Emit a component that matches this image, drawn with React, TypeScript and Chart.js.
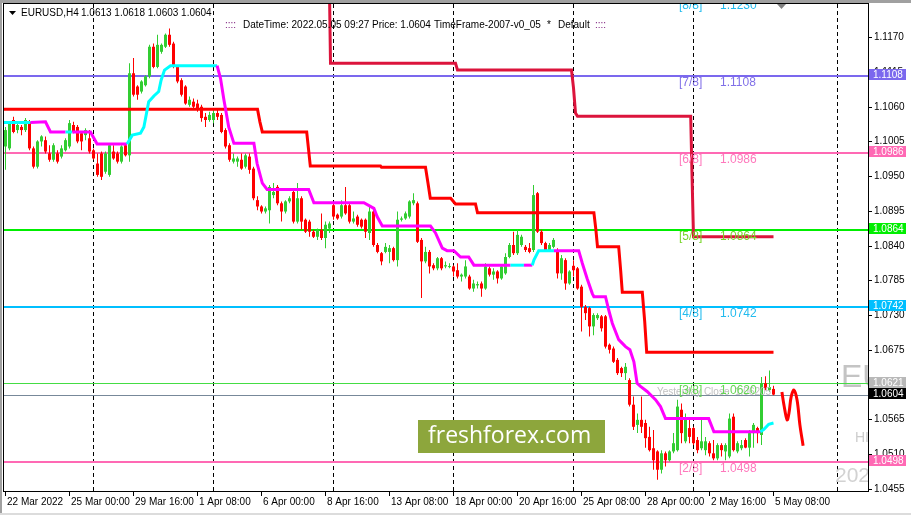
import React, { useEffect, useRef } from 'react';
import { Chart, registerables } from 'chart.js';

Chart.register(...registerables);

const symbolTitle = 'EURUSD,H4';
const lastBarText = '1.0613 1.0618 1.0603 1.0604';

const opens = [
  1.0997, 1.0994, 1.1039, 1.1023, 1.1028, 1.1023, 1.1036, 1.0994, 1.0965, 1.1005,
  1.1007, 1.0986, 1.0976, 1.0986, 1.0981, 1.0991, 1.0997, 1.1031, 1.1028, 1.1018,
  1.1015, 1.1010, 1.0991, 1.0970, 1.0986, 1.0957, 1.0952, 1.0989, 1.0986, 1.0973,
  1.0999, 1.0983, 1.1113, 1.1092, 1.1084, 1.1094, 1.1108, 1.1155, 1.1123, 1.1147,
  1.1155, 1.1174, 1.1160, 1.1123, 1.1102, 1.1092, 1.1063, 1.1068, 1.1065, 1.1060,
  1.1044, 1.1039, 1.1039, 1.1050, 1.1047, 1.1023, 1.0999, 1.0973, 1.0973, 1.0976,
  1.0965, 1.0981, 1.0962, 1.0912, 1.0902, 1.0894, 1.0896, 1.0920, 1.0933, 1.0907,
  1.0894, 1.0910, 1.0925, 1.0878, 1.0915, 1.0881, 1.0878, 1.0862, 1.0854, 1.0865,
  1.0852, 1.0867, 1.0904, 1.0889, 1.0886, 1.0904, 1.0904, 1.0878, 1.0886, 1.0881,
  1.0881, 1.0860, 1.0894, 1.0841, 1.0828, 1.0830, 1.0830, 1.0836, 1.0817, 1.0881,
  1.0883, 1.0886, 1.0907, 1.0907, 1.0849, 1.0815, 1.0830, 1.0809, 1.0804, 1.0820,
  1.0807, 1.0806, 1.0807, 1.0801, 1.0791, 1.0791, 1.0791, 1.0772, 1.0777, 1.0780,
  1.0772, 1.0804, 1.0794, 1.0799, 1.0788, 1.0796, 1.0822, 1.0841, 1.0828, 1.0841,
  1.0838, 1.0836, 1.0833, 1.0923, 1.0862, 1.0844, 1.0833, 1.0838, 1.0830, 1.0796,
  1.0817, 1.0780, 1.0808, 1.0804, 1.0775, 1.0743, 1.0741, 1.0712, 1.0725, 1.0728,
  1.0728, 1.0683, 1.0677, 1.0659, 1.0646, 1.0638, 1.0627, 1.0588, 1.0556, 1.0564,
  1.0559, 1.0537, 1.0519, 1.0514, 1.0485, 1.0511, 1.0500, 1.0514, 1.0516, 1.0580,
  1.0530, 1.0551, 1.0551, 1.0532, 1.0519, 1.0516, 1.0527, 1.0511, 1.0503, 1.0524,
  1.0514, 1.0506, 1.0569, 1.0514, 1.0519, 1.0532, 1.0520, 1.0543, 1.0551, 1.0540,
  1.0622, 1.0611, 1.0613,
];
const highs = [
  1.1028, 1.1036, 1.1044, 1.1036, 1.1031, 1.1042, 1.1039, 1.0997, 1.1007, 1.1015,
  1.1013, 1.0999, 1.1002, 1.0991, 1.0999, 1.1010, 1.1039, 1.1036, 1.1031, 1.1020,
  1.1026, 1.1023, 1.0994, 1.0986, 1.0989, 1.0989, 1.1002, 1.0999, 1.0989, 1.0999,
  1.1002, 1.1129, 1.1137, 1.1094, 1.1102, 1.1110, 1.1158, 1.1160, 1.1174, 1.1160,
  1.1176, 1.1184, 1.1163, 1.1126, 1.1105, 1.1094, 1.1076, 1.1073, 1.1071, 1.1063,
  1.1050, 1.1052, 1.1055, 1.1055, 1.1050, 1.1026, 1.1002, 1.0986, 1.0981, 1.0986,
  1.0986, 1.0986, 1.0965, 1.0918, 1.0904, 1.0902, 1.0936, 1.0939, 1.0936, 1.0910,
  1.0912, 1.0918, 1.0928, 1.0939, 1.0918, 1.0883, 1.0881, 1.0865, 1.0867, 1.0891,
  1.0878, 1.0878, 1.0907, 1.0891, 1.0912, 1.0933, 1.0907, 1.0894, 1.0889, 1.0883,
  1.0883, 1.0902, 1.0896, 1.0844, 1.0830, 1.0844, 1.0841, 1.0838, 1.0894, 1.0886,
  1.0894, 1.0912, 1.0923, 1.0910, 1.0852, 1.0838, 1.0833, 1.0812, 1.0822, 1.0822,
  1.0815, 1.0812, 1.0809, 1.0812, 1.0796, 1.0817, 1.0794, 1.0786, 1.0783, 1.0783,
  1.0812, 1.0807, 1.0804, 1.0801, 1.0809, 1.0828, 1.0844, 1.0862, 1.0865, 1.0857,
  1.0841, 1.0844, 1.0936, 1.0925, 1.0865, 1.0846, 1.0844, 1.0852, 1.0836, 1.0825,
  1.0820, 1.0801, 1.0817, 1.0806, 1.0778, 1.0746, 1.0743, 1.0733, 1.0733, 1.0730,
  1.0730, 1.0685, 1.0680, 1.0662, 1.0648, 1.0654, 1.0630, 1.0601, 1.0574, 1.0601,
  1.0564, 1.0553, 1.0548, 1.0516, 1.0516, 1.0514, 1.0516, 1.0543, 1.0596, 1.0590,
  1.0574, 1.0564, 1.0553, 1.0537, 1.0564, 1.0537, 1.0530, 1.0532, 1.0527, 1.0527,
  1.0527, 1.0574, 1.0574, 1.0530, 1.0532, 1.0535, 1.0548, 1.0559, 1.0553, 1.0632,
  1.0633, 1.0642, 1.0618,
];
const lows = [
  1.0960, 1.0991, 1.1018, 1.1018, 1.1015, 1.1020, 1.0991, 1.0962, 1.0962, 1.0997,
  1.0986, 1.0973, 1.0973, 1.0970, 1.0978, 1.0989, 1.0994, 1.1018, 1.1002, 1.0991,
  1.1007, 1.0986, 1.0976, 1.0949, 1.0944, 1.0954, 1.0949, 1.0976, 1.0970, 1.0970,
  1.0981, 1.0973, 1.1076, 1.1071, 1.1081, 1.1092, 1.1105, 1.1121, 1.1121, 1.1144,
  1.1153, 1.1155, 1.1121, 1.1097, 1.1076, 1.1063, 1.1060, 1.1057, 1.1052, 1.1036,
  1.1028, 1.1036, 1.1034, 1.1039, 1.1018, 1.0994, 1.0973, 1.0970, 1.0965, 1.0960,
  1.0962, 1.0954, 1.0912, 1.0896, 1.0891, 1.0891, 1.0875, 1.0915, 1.0904, 1.0878,
  1.0891, 1.0907, 1.0875, 1.0875, 1.0865, 1.0860, 1.0854, 1.0852, 1.0849, 1.0849,
  1.0836, 1.0860, 1.0881, 1.0881, 1.0883, 1.0889, 1.0875, 1.0875, 1.0870, 1.0867,
  1.0852, 1.0849, 1.0838, 1.0828, 1.0809, 1.0828, 1.0812, 1.0815, 1.0807, 1.0878,
  1.0881, 1.0883, 1.0904, 1.0844, 1.0757, 1.0812, 1.0796, 1.0801, 1.0801, 1.0801,
  1.0804, 1.0804, 1.0791, 1.0788, 1.0783, 1.0788, 1.0770, 1.0767, 1.0772, 1.0759,
  1.0770, 1.0791, 1.0786, 1.0780, 1.0786, 1.0794, 1.0820, 1.0825, 1.0825, 1.0838,
  1.0830, 1.0828, 1.0830, 1.0860, 1.0841, 1.0830, 1.0830, 1.0836, 1.0788, 1.0786,
  1.0770, 1.0778, 1.0791, 1.0770, 1.0704, 1.0722, 1.0696, 1.0698, 1.0722, 1.0704,
  1.0677, 1.0669, 1.0654, 1.0635, 1.0632, 1.0627, 1.0585, 1.0548, 1.0543, 1.0543,
  1.0520, 1.0514, 1.0485, 1.0469, 1.0479, 1.0490, 1.0498, 1.0511, 1.0514, 1.0527,
  1.0527, 1.0527, 1.0524, 1.0511, 1.0516, 1.0508, 1.0506, 1.0500, 1.0500, 1.0506,
  1.0500, 1.0503, 1.0514, 1.0511, 1.0516, 1.0519, 1.0506, 1.0520, 1.0527, 1.0524,
  1.0611, 1.0608, 1.0603,
];
const closes = [
  1.1023, 1.1034, 1.1020, 1.1031, 1.1023, 1.1039, 1.0994, 1.0965, 1.1005, 1.1013,
  1.0989, 1.0976, 1.0999, 1.0973, 1.0994, 1.1007, 1.1034, 1.1020, 1.1005, 1.1005,
  1.1023, 1.0989, 1.0978, 1.0952, 1.0949, 1.0986, 1.0999, 1.0978, 1.0973, 1.0997,
  1.0983, 1.1113, 1.1079, 1.1079, 1.1100, 1.1108, 1.1155, 1.1123, 1.1158, 1.1158,
  1.1174, 1.1158, 1.1123, 1.1100, 1.1079, 1.1065, 1.1071, 1.1060, 1.1057, 1.1042,
  1.1039, 1.1047, 1.1050, 1.1044, 1.1020, 1.0997, 1.0976, 1.0978, 1.0978, 1.0962,
  1.0983, 1.0960, 1.0915, 1.0902, 1.0894, 1.0899, 1.0933, 1.0925, 1.0907, 1.0894,
  1.0910, 1.0915, 1.0878, 1.0915, 1.0878, 1.0862, 1.0862, 1.0854, 1.0865, 1.0852,
  1.0873, 1.0875, 1.0886, 1.0883, 1.0904, 1.0891, 1.0878, 1.0883, 1.0873, 1.0870,
  1.0862, 1.0894, 1.0841, 1.0830, 1.0815, 1.0838, 1.0836, 1.0817, 1.0881, 1.0883,
  1.0891, 1.0910, 1.0912, 1.0846, 1.0815, 1.0830, 1.0807, 1.0804, 1.0820, 1.0804,
  1.0809, 1.0807, 1.0799, 1.0791, 1.0794, 1.0807, 1.0772, 1.0780, 1.0779, 1.0772,
  1.0807, 1.0794, 1.0799, 1.0788, 1.0807, 1.0822, 1.0841, 1.0828, 1.0857, 1.0854,
  1.0833, 1.0830, 1.0920, 1.0862, 1.0844, 1.0833, 1.0841, 1.0849, 1.0796, 1.0820,
  1.0780, 1.0799, 1.0801, 1.0772, 1.0743, 1.0733, 1.0712, 1.0730, 1.0730, 1.0709,
  1.0680, 1.0675, 1.0656, 1.0638, 1.0638, 1.0648, 1.0588, 1.0553, 1.0564, 1.0553,
  1.0535, 1.0516, 1.0500, 1.0485, 1.0511, 1.0500, 1.0514, 1.0527, 1.0585, 1.0543,
  1.0564, 1.0537, 1.0527, 1.0516, 1.0530, 1.0530, 1.0511, 1.0503, 1.0524, 1.0516,
  1.0524, 1.0566, 1.0516, 1.0527, 1.0524, 1.0520, 1.0543, 1.0556, 1.0543, 1.0622,
  1.0614, 1.0616, 1.0604,
];

const xTickIndex = [0, 16, 32, 48, 64, 80, 96, 112, 128, 144, 160, 176, 192];
const xTickLabels = [
  '22 Mar 2022', '25 Mar 00:00', '29 Mar 16:00', '1 Apr 08:00', '6 Apr 00:00', '8 Apr 16:00',
  '13 Apr 08:00', '18 Apr 00:00', '20 Apr 16:00', '25 Apr 08:00', '28 Apr 00:00', '2 May 16:00', '5 May 08:00',
];
const gridIndex = [22, 52, 82, 112, 142, 172, 208];
const yTickValues = [1.117, 1.1115, 1.106, 1.1005, 1.095, 1.0895, 1.084, 1.0785, 1.073, 1.0675, 1.062, 1.0565, 1.051, 1.0455];

const murreyNames = ['[8/8]', '[7/8]', '[6/8]', '[5/8]', '[4/8]', '[3/8]', '[2/8]'];
const murreyValues = [1.123, 1.1108, 1.0986, 1.0864, 1.0742, 1.062, 1.0498];
const murreyLineColors = ['#00bfff', '#7b68ee', '#ff69b4', '#00ee00', '#00bfff', '#44dd44', '#ff69b4'];
const murreyTextColors = ['#22bbee', '#8070e8', '#ff78bc', '#77d62a', '#22bbee', '#66d655', '#ff78bc'];
const murreyBoxed = [false, true, true, true, true, false, true];
const yesterdayClose = 1.06205;
const yesterdayCloseBox = 1.0621;
const bidPrice = 1.0604;

const redStepIndex = [-0.5, 63, 63.6, 64.2, 75.3, 75.8, 76.2, 93.75, 94, 105, 105.6, 106.2, 111.3, 112.5, 117.5, 118, 147.1, 147.6, 148, 153.3, 153.8, 154.2, 159.2, 159.8, 160.3, 192];
const redStepValues = [1.1056, 1.1056, 1.1036, 1.102, 1.102, 1.099, 1.0966, 1.0966, 1.0964, 1.0964, 1.094, 1.0915, 1.0915, 1.0906, 1.0906, 1.0892, 1.0892, 1.0865, 1.0838, 1.0838, 1.08, 1.0766, 1.0766, 1.072, 1.0671, 1.0671];

const crimsonStepIndex = [81, 81.25, 112.5, 113, 141.5, 142, 142.5, 143, 171.3, 171.6, 172, 192];
const crimsonStepValues = [1.124, 1.1129, 1.1129, 1.1118, 1.1118, 1.109, 1.105, 1.1045, 1.1045, 1.096, 1.0854, 1.0854];

const trailIndex = [
  -0.5, 6.25, 10, 11.25, 15, 16.7, 21.25, 22.9, 30.4, 31.7, 33.75, 34.6, 35.8, 37.1, 38.3, 38.9, 39.75, 41.25,
  52.9, 53.75, 54.6, 55.8, 57.1, 62.1, 62.9, 64.2, 65.4, 75.8, 77.1, 89.6, 92.1, 92.9, 94.2, 106.25, 107.5,
  109.2, 110.4, 112.1, 113.75, 115.8, 117.1, 126.25, 129.6, 131.7, 132.1, 133.3, 137.1, 143.3, 144.2, 145.4,
  146.7, 147.1, 150, 150.8, 151.7, 153.3, 155, 156.1, 157.1, 157.9, 158.75, 160.4, 162.5, 163.75, 165, 175.8,
  177.1, 188.75, 189.6, 190.8, 192,
];
const trailValues = [
  1.1035, 1.1035, 1.1036, 1.102, 1.102, 1.102, 1.102, 1.1001, 1.1001, 1.1015, 1.1018, 1.1028, 1.1068, 1.1077, 1.1084, 1.1102, 1.1118, 1.1125,
  1.1125, 1.1105, 1.1071, 1.1028, 1.1002, 1.1002, 1.097, 1.0939, 1.0929, 1.0929, 1.0908, 1.0908, 1.0899, 1.0886, 1.0871, 1.0871, 1.086,
  1.0836, 1.0832, 1.0832, 1.0822, 1.0822, 1.0809, 1.0809, 1.0809, 1.0809, 1.0817, 1.0832, 1.0832, 1.0832, 1.0812, 1.0788,
  1.0764, 1.0759, 1.0759, 1.0738, 1.0717, 1.0691, 1.068, 1.0675, 1.0656, 1.0622, 1.0617, 1.0609, 1.0596, 1.0585, 1.0566, 1.0566,
  1.0545, 1.0545, 1.0549, 1.0557, 1.0559,
];
const trailTrend = (
  'cmmmcmmmcccccccccc' +
  'mmmmmmmmmmmmmmmmmmmmmmm' +
  'cmccc' +
  'mmmmmmmmmmmmmmmmmmmmm' +
  'cccc'
).split('');

const forecastIndex = [194.1, 194.6, 195.4, 195.9, 196.4, 197.1, 197.9, 198.6, 199.4];
const forecastValues = [1.0608, 1.0588, 1.0564, 1.0576, 1.06, 1.0611, 1.0595, 1.0556, 1.0523];

const SANS = '"Liberation Sans", Arial, sans-serif';
const NARROW = '"Liberation Sans Narrow", "Liberation Sans", sans-serif';

function pickSmallFont(ctx: CanvasRenderingContext2D) {
  ctx.font = '11px "Liberation Sans Narrow", monospace';
  const a = ctx.measureText('1.0613 EURUSD').width;
  ctx.font = '11px monospace';
  const b = ctx.measureText('1.0613 EURUSD').width;
  return a !== b ? '11px "Liberation Sans Narrow", sans-serif' : `10px ${SANS}`;
}

function makeOverlay(small: string) {
  return {
    id: 'mt4overlay',
    beforeDraw(chart: any) {
      const { ctx, width, height } = chart;
      ctx.save();
      ctx.fillStyle = '#ffffff';
      ctx.fillRect(0, 0, width, height);
      ctx.fillStyle = '#a0a0a0';
      ctx.fillRect(0, 0, width, 3);
      ctx.fillRect(0, 0, 2, height);
      ctx.fillStyle = '#dcdcdc';
      ctx.fillRect(0, height - 2, width, 2);
      ctx.restore();
    },
    beforeDatasetsDraw(chart: any) {
      const { ctx, chartArea: a, scales } = chart;
      const xs = scales.x;
      const ys = scales.y;
      ctx.save();
      ctx.beginPath();
      ctx.rect(a.left, a.top, a.right - a.left, a.bottom - a.top);
      ctx.clip();

      ctx.strokeStyle = '#000';
      ctx.lineWidth = 1;
      ctx.setLineDash([4, 3]);
      gridIndex.forEach((g) => {
        const px = Math.floor(xs.getPixelForValue(g)) + 0.5;
        ctx.beginPath();
        ctx.moveTo(px, a.top);
        ctx.lineTo(px, a.bottom);
        ctx.stroke();
      });
      ctx.setLineDash([]);

      ctx.fillStyle = '#8da63c';
      ctx.fillRect(418, 420, 187, 33);
      ctx.fillStyle = '#ffffff';
      ctx.font = '23px "Open Sans", sans-serif';
      ctx.textBaseline = 'middle';
      ctx.textAlign = 'left';
      ctx.fillText('freshforex.com', 428, 436);
      ctx.fillStyle = '#c4c4c4';
      ctx.font = `32px ${NARROW}`;
      ctx.fillText('EU', 841, 378);
      ctx.fillStyle = '#cccccc';
      ctx.font = `14px ${SANS}`;
      ctx.fillText('HI', 855, 438);
      ctx.fillStyle = '#d2d2d2';
      ctx.font = `21px ${SANS}`;
      ctx.fillText('2022', 835, 476);

      murreyValues.forEach((v, i) => {
        const py = Math.round(ys.getPixelForValue(v));
        ctx.fillStyle = murreyLineColors[i];
        if (murreyBoxed[i]) ctx.fillRect(a.left, py - 1, a.right - a.left, 2);
      });
      const yc = Math.round(ys.getPixelForValue(yesterdayClose));
      ctx.fillStyle = '#c0c0c0';
      ctx.fillRect(a.left, yc - 1, a.right - a.left, 1);
      ctx.fillStyle = murreyLineColors[5];
      ctx.fillRect(a.left, Math.round(ys.getPixelForValue(murreyValues[5])) - 1, a.right - a.left, 1);
      ctx.fillStyle = '#778899';
      ctx.fillRect(a.left, Math.round(ys.getPixelForValue(bidPrice)), a.right - a.left, 1);
      ctx.restore();
    },
    afterDatasetsDraw(chart: any) {
      const { ctx, chartArea: a, scales } = chart;
      const xs = scales.x;
      const ys = scales.y;
      ctx.save();
      ctx.beginPath();
      ctx.rect(a.left, a.top, a.right - a.left, a.bottom - a.top);
      ctx.clip();
      ctx.textBaseline = 'middle';
      ctx.textAlign = 'left';
      ctx.font = `10px ${SANS}`;
      ctx.fillStyle = '#c0c0c0';
      ctx.fillText('Yesterday Close  ' + yesterdayClose.toFixed(5), 657, Math.round(ys.getPixelForValue(yesterdayClose)) + 8);
      ctx.font = `12px ${SANS}`;
      murreyValues.forEach((v, i) => {
        const py = Math.round(ys.getPixelForValue(v)) + 7;
        ctx.fillStyle = murreyTextColors[i];
        ctx.fillText(murreyNames[i], 679, py);
        ctx.fillText(v.toFixed(4), 720, py);
      });
      ctx.restore();

      ctx.save();
      ctx.strokeStyle = '#000';
      ctx.lineWidth = 1;
      ctx.strokeRect(a.left - 0.5, a.top - 0.5, a.right - a.left + 1, a.bottom - a.top + 1);

      ctx.fillStyle = '#808080';
      ctx.beginPath();
      ctx.moveTo(777, 4);
      ctx.lineTo(786, 4);
      ctx.lineTo(781.5, 9);
      ctx.closePath();
      ctx.fill();

      ctx.font = small;
      ctx.textBaseline = 'middle';
      ctx.textAlign = 'left';
      ctx.fillStyle = '#000';
      yTickValues.forEach((v) => {
        const py = Math.round(ys.getPixelForValue(v));
        ctx.fillRect(a.right, py, 4, 1);
        ctx.fillText(v.toFixed(4), 874, py + 0.5);
      });
      const box = (v: number, bg: string) => {
        const py = Math.round(ys.getPixelForValue(v));
        ctx.fillStyle = bg;
        ctx.fillRect(a.right + 1, py - 7, 37, 11);
        ctx.fillStyle = '#ffffff';
        ctx.fillText(v.toFixed(4), 873, py - 1);
      };
      murreyValues.forEach((v, i) => {
        if (murreyBoxed[i]) box(v, murreyLineColors[i]);
      });
      box(yesterdayCloseBox, '#b8b8b8');
      box(bidPrice, '#000000');

      ctx.fillStyle = '#000';
      xTickIndex.forEach((t, i) => {
        const px = Math.floor(xs.getPixelForValue(t));
        ctx.fillRect(px, a.bottom + 1, 1, 4);
        ctx.fillText(xTickLabels[i], px + 2, 502);
      });

      ctx.beginPath();
      ctx.moveTo(9, 11);
      ctx.lineTo(16, 11);
      ctx.lineTo(12.5, 15);
      ctx.closePath();
      ctx.fill();
      ctx.fillText(symbolTitle, 21, 13);
      ctx.fillText(lastBarText, 81, 13);
      ctx.fillStyle = '#7a1a7a';
      ctx.fillText('::::', 225, 25);
      ctx.fillText('::::', 595, 25);
      ctx.fillStyle = '#000';
      ctx.fillText('DateTime: 2022.05.05 09:27', 243, 25);
      ctx.fillText('Price: ' + bidPrice.toFixed(4), 372, 25);
      ctx.fillText('TimeFrame-2007-v0_05', 434, 25);
      ctx.fillText('*', 547, 25);
      ctx.fillText('Default', 558, 25);
      ctx.restore();
    },
  };
}

export default function App() {
  const ref = useRef<HTMLCanvasElement>(null);
  useEffect(() => {
    document.body.style.margin = '0';
    const canvas = ref.current;
    if (!canvas) return;
    const ctx2 = canvas.getContext('2d') as CanvasRenderingContext2D;
    const small = pickSmallFont(ctx2);
    const bull = '#32cd32';
    const bear = '#ff0000';
    const colors = closes.map((c, i) => (c >= opens[i] ? bull : bear));
    const chart = new Chart(canvas, {
      type: 'bar',
      data: {
        datasets: [
          {
            type: 'line',
            data: forecastIndex.map((x, i) => ({ x, y: forecastValues[i] })),
            borderColor: '#ff0000',
            borderWidth: 3,
            pointRadius: 0,
            tension: 0.35,
            clip: 0,
            order: 1,
          } as any,
          {
            type: 'line',
            data: trailIndex.map((x, i) => ({ x, y: trailValues[i] })),
            borderColor: '#ff00ff',
            borderWidth: 3,
            pointRadius: 0,
            tension: 0,
            clip: 0,
            order: 2,
            segment: {
              borderColor: (c: any) => (trailTrend[c.p0DataIndex] === 'c' ? '#00ffff' : '#ff00ff'),
            },
          } as any,
          {
            type: 'line',
            data: crimsonStepIndex.map((x, i) => ({ x, y: crimsonStepValues[i] })),
            borderColor: '#dc143c',
            borderWidth: 3,
            pointRadius: 0,
            tension: 0,
            clip: 0,
            order: 3,
          } as any,
          {
            type: 'line',
            data: redStepIndex.map((x, i) => ({ x, y: redStepValues[i] })),
            borderColor: '#ff0000',
            borderWidth: 3,
            pointRadius: 0,
            tension: 0,
            clip: 0,
            order: 4,
          } as any,
          {
            type: 'bar',
            data: opens.map((o, i) => ({ x: i, y: [o, closes[i]] })),
            backgroundColor: colors,
            barThickness: 3,
            minBarLength: 1,
            borderWidth: 0,
            inflateAmount: 0,
            grouped: false,
            order: 8,
          } as any,
          {
            type: 'bar',
            data: highs.map((h, i) => ({ x: i, y: [lows[i], h] })),
            backgroundColor: colors,
            barThickness: 1,
            borderWidth: 0,
            inflateAmount: 0,
            grouped: false,
            order: 9,
          } as any,
        ],
      },
      options: {
        animation: false,
        responsive: false,
        devicePixelRatio: 1,
        events: [],
        layout: { padding: { left: 4, top: 4, right: 43, bottom: 24 } },
        plugins: { legend: { display: false }, tooltip: { enabled: false } },
        scales: {
          x: { type: 'linear', min: -0.375, max: 215.625, display: false, offset: false, bounds: 'data' },
          y: { type: 'linear', min: 1.04513, max: 1.12227, display: false, beginAtZero: false },
        },
      } as any,
      plugins: [makeOverlay(small)],
    });
    return () => chart.destroy();
  }, []);
  return <canvas ref={ref} width={911} height={515} style={{ display: 'block', width: 911, height: 515 }} />;
}
